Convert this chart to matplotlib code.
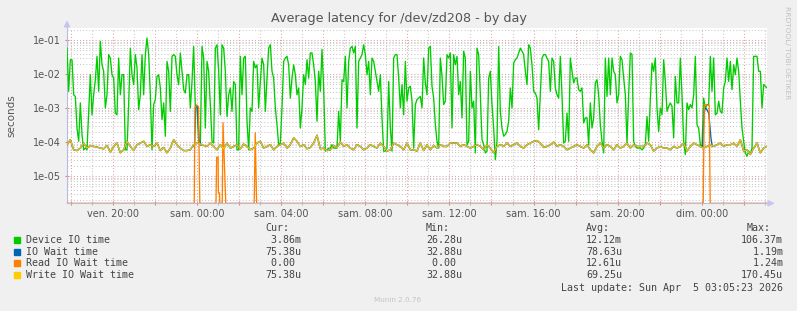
import numpy as np
import matplotlib
matplotlib.use("Agg")
import matplotlib.pyplot as plt
from matplotlib.ticker import MultipleLocator, LogLocator, FuncFormatter, NullFormatter
from matplotlib.patches import Rectangle, Polygon

# ---------------- data ----------------
# time in minutes relative to "sam. 00:00"
T_START, T_END = -371, 1626

# Device IO time, log10(seconds), evenly spaced samples over the window
device_log10 = [
    -1.24, -2.51, -1.58, -1.58, -2.61, -2.66, -3.59, -3.98, -2.85, -3.78,
    -4.23, -4.18, -4.23, -3.10, -2.02, -3.20, -2.61, -2.17, -1.48, -2.51,
    -1.04, -1.73, -1.92, -3.00, -2.61, -1.43, -1.53, -2.02, -2.12, -3.15,
    -3.20, -1.53, -2.61, -2.02, -2.02, -4.23, -4.23, -2.90, -1.24, -2.02,
    -2.31, -1.43, -1.82, -3.05, -2.61, -1.43, -2.61, -1.43, -0.94, -1.43,
    -2.61, -4.23, -2.90, -2.75, -2.07, -2.02, -2.41, -3.34, -2.85, -3.83,
    -1.63, -1.92, -3.10, -1.48, -1.43, -1.48, -2.02, -2.31, -1.38, -1.92, -2.46,
    -2.56, -2.02, -2.02, -3.00, -2.22, -1.19, -3.00, -2.95, -4.03, -4.03,
    -1.19, -1.53, -3.59, -1.63, -1.92, -2.90, -3.98, -4.03, -1.24, -1.14,
    -1.92, -3.20, -1.14, -1.24, -1.92, -3.25, -2.61, -2.41, -3.10, -2.22,
    -2.31, -4.23, -4.23, -1.48, -2.61, -1.53, -1.48, -3.39, -4.23, -3.00,
    -3.10, -1.63, -1.82, -1.73, -3.00, -2.22, -1.53, -1.73, -3.10, -2.12,
    -1.24, -1.14, -1.92, -2.12, -3.00, -3.49, -4.08, -4.03, -3.00, -1.63,
    -1.53, -1.48, -1.73, -2.71, -2.12, -1.73, -2.02, -2.61, -2.41, -3.59,
    -3.00, -2.02, -2.31, -1.58, -2.12, -1.38, -1.38, -1.73, -2.22, -3.39,
    -1.92, -2.51, -1.28, -2.41, -4.27, -4.23, -4.18, -4.18, -4.08, -4.18,
    -4.18, -4.18, -3.10, -3.98, -2.17, -2.22, -1.48, -3.00, -1.63, -1.24,
    -1.19, -1.38, -1.19, -3.59, -1.63, -1.53, -1.43, -1.14, -1.43, -2.02,
    -1.63, -2.61, -1.53, -1.63, -1.92, -2.22, -2.51, -2.02, -3.29, -4.27,
    -4.27, -4.18, -2.22, -3.59, -4.27, -1.53, -1.43, -1.43, -2.12, -3.00,
    -2.31, -3.20, -1.63, -2.80, -2.41, -2.36, -2.80, -4.18, -2.90, -2.75, -2.71,
    -2.66, -3.00, -1.53, -2.26, -2.61, -1.24, -1.19, -2.36, -2.71, -3.49,
    -3.98, -4.18, -1.53, -2.07, -2.90, -2.80, -1.43, -1.53, -1.38, -3.59,
    -1.43, -1.73, -1.48, -2.61, -2.22, -3.29, -1.33, -1.53, -4.08, -3.98,
    -1.92, -3.00, -2.80, -4.32, -1.24, -1.43, -2.61, -3.93, -4.08, -4.32,
    -4.27, -2.12, -1.92, -2.90, -3.59, -4.52, -3.98, -1.19, -3.10, -3.59,
    -3.83, -3.78, -3.69, -3.39, -2.41, -3.00, -1.68, -1.58, -1.53, -1.38,
    -1.24, -1.33, -1.43, -1.92, -2.31, -1.14, -1.24, -1.73, -2.51, -2.56, -2.71,
    -3.64, -2.61, -1.53, -1.43, -1.43, -1.53, -1.63, -2.51, -1.53, -1.63,
    -2.41, -2.61, -2.71, -1.48, -2.61, -4.03, -3.98, -3.15, -3.98, -1.53,
    -1.92, -2.26, -2.12, -2.12, -2.46, -2.51, -2.41, -3.44, -3.29, -3.29,
    -4.08, -2.85, -3.59, -3.29, -2.26, -2.17, -2.61, -3.49, -3.98, -4.32,
    -1.53, -2.66, -1.53, -2.61, -1.53, -1.92, -2.02, -2.85, -2.61, -1.48,
    -1.58, -2.12, -2.61, -4.03, -2.61, -1.38, -1.43, -3.98, -4.13, -4.18,
    -4.18, -4.18, -4.23, -4.18, -4.08, -3.25, -3.98, -2.75, -1.68, -1.92, -1.53,
    -3.00, -3.69, -3.00, -3.20, -1.58, -2.22, -3.10, -2.95, -2.85, -2.95,
    -3.88, -2.07, -2.85, -2.85, -1.53, -2.61, -3.98, -4.37, -2.85, -3.05,
    -2.90, -3.00, -2.61, -1.48, -3.49, -3.59, -4.08, -4.13, -2.71, -3.00,
    -2.90, -2.90, -1.48, -2.51, -1.53, -3.20, -3.15, -2.80, -3.10, -3.15,
    -2.41, -2.22, -1.53, -2.22, -1.63, -2.46, -1.73, -2.02, -1.53, -1.92,
    -2.80, -3.59, -3.98, -4.32, -4.42, -4.27, -4.37, -4.18, -1.48, -1.48,
    -1.48, -1.92, -1.92, -3.00, -2.31, -2.36, -2.41,
]

# Write IO Wait time, microseconds, evenly spaced samples over the window
write_us = [
    83, 117, 59, 56, 66, 93, 66, 79, 74, 71, 66, 63, 79, 51, 74, 93, 48, 59,
    105, 74, 56, 83, 93, 105, 74, 83, 74, 93, 56, 69, 48, 66, 117, 83, 66, 56,
    56, 59, 83, 93, 87, 79, 74, 93, 74, 59, 83, 63, 93, 66, 74, 83, 63, 87,
    74, 59, 66, 93, 105, 66, 74, 83, 59, 74, 83, 93, 66, 83, 132, 105, 74,
    83, 63, 69, 93, 158, 63, 66, 56, 59, 79, 69, 100, 74, 83, 66, 59, 83, 74,
    59, 66, 83, 74, 66, 93, 74, 54, 59, 93, 83, 74, 59, 93, 59, 59, 54,
    93, 56, 83, 59, 79, 66, 83, 74, 74, 93, 93, 93, 74, 83, 74, 66, 74, 83,
    74, 59, 83, 66, 48, 74, 83, 74, 93, 74, 83, 93, 74, 66, 83, 93, 105, 110,
    93, 69, 74, 83, 100, 74, 83, 74, 59, 66, 74, 83, 74, 66, 83, 59, 48, 74,
    93, 66, 83, 74, 59, 83, 66, 74, 93, 66, 83, 74, 74, 74, 93, 83, 54,
    66, 74, 66, 66, 59, 74, 66, 74, 93, 54, 74, 93, 83, 74, 66, 74, 83, 74,
    83, 93, 74, 83, 83, 93, 74, 117, 54, 59, 43, 66, 93, 48, 66, 75,
]

# Read IO Wait time (mostly zero), microseconds
read_t = [-371, -8, -6, -1, 4, 8, 54, 56, 60, 61, 64, 65, 72, 74, 82,
          163, 166, 170, 1444, 1447, 1461, 1464, 1626]
read_us = [0, 0, 1000, 1240, 1100, 0, 0, 36, 36, 3.2, 3.2, 0, 0, 370, 0,
           0, 190, 0, 0, 1240, 1200, 0, 0]

# IO Wait time: equal to write wait except where reads occur (spikes), microseconds
iowait_t1 = [-12, -7, -4, 1, 6, 11]
iowait_us1 = [74, 80, 1190, 1100, 120, 80]
iowait_t2 = [1442, 1447, 1452, 1460, 1466, 1470]
iowait_us2 = [70, 850, 1000, 700, 132, 74]

tick_minutes = [-240, 0, 240, 480, 720, 960, 1200, 1440]
tick_labels = ["ven. 20:00", "sam. 00:00", "sam. 04:00", "sam. 08:00",
               "sam. 12:00", "sam. 16:00", "sam. 20:00", "dim. 00:00"]

series_names = ["Device IO time", "IO Wait time", "Read IO Wait time", "Write IO Wait time"]
series_colors = ["#00CC00", "#0066B3", "#FF8000", "#FFCC00"]
cur_vals = ["3.86m", "75.38u", "0.00", "75.38u"]
min_vals = ["26.28u", "32.88u", "0.00", "32.88u"]
avg_vals = ["12.12m", "78.63u", "12.61u", "69.25u"]
max_vals = ["106.37m", "1.19m", "1.24m", "170.45u"]
last_update = "Last update: Sun Apr  5 03:05:23 2026"

YMIN, YMAX = 1.574e-6, 0.2254

# ---------------- figure ----------------
W, H = 797, 311
fig = plt.figure(figsize=(W / 100, H / 100), dpi=100, facecolor="#F0F0F0")

def fx(px):
    return px / W

def fy(py):
    return 1 - py / H

ax_l, ax_r, ax_t, ax_b = 67, 767, 28, 203.3
ax = fig.add_axes([fx(ax_l), fy(ax_b), (ax_r - ax_l) / W, (ax_b - ax_t) / H])
ax.set_facecolor("white")
ax.set_yscale("log")
ax.set_xlim(T_START, T_END)
ax.set_ylim(YMIN, YMAX)

# grid
ax.set_axisbelow(True)
ax.xaxis.set_major_locator(MultipleLocator(120))
ax.xaxis.set_minor_locator(MultipleLocator(60))
ax.yaxis.set_major_locator(LogLocator(base=10, numticks=20))
ax.yaxis.set_minor_locator(LogLocator(base=10, subs=np.arange(2, 10), numticks=20))
ax.grid(which="major", color="#e2a0a0", linestyle=(0, (1, 2)), linewidth=0.75)
ax.grid(which="minor", color="#c8c8c8", linestyle=(0, (1, 2)), linewidth=0.75)

label_map = dict(zip(tick_minutes, tick_labels))
ax.xaxis.set_major_formatter(FuncFormatter(lambda v, p: label_map.get(int(round(v)), "")))
ax.xaxis.set_minor_formatter(NullFormatter())
ax.yaxis.set_major_formatter(FuncFormatter(lambda v, p: f"{v:.0e}"))
ax.yaxis.set_minor_formatter(NullFormatter())

ax.tick_params(which="major", direction="inout", length=3, width=0.8, color="#e08080",
               labelsize=7, labelcolor="#555555")
ax.tick_params(which="minor", direction="inout", length=3, width=0.8, color="#bbbbbb")
ax.tick_params(axis="x", which="major", pad=2.5)
ax.tick_params(axis="y", which="major", pad=3)
ax.tick_params(axis="y", which="minor", length=0)

for s in ["top", "right"]:
    ax.spines[s].set_visible(False)
ax.spines["left"].set_color("#b8bce0")
ax.spines["bottom"].set_color("#b8bce0")
ax.spines["left"].set_linewidth(0.8)
ax.spines["bottom"].set_linewidth(0.8)

# series
t_dev = np.linspace(T_START, T_END, len(device_log10))
t_wr = np.linspace(T_START, T_END, len(write_us))
ax.plot(t_dev, 10 ** np.array(device_log10), color=series_colors[0], lw=0.95, zorder=3)
# IO wait follows the write wait curve (no reads), plus its read spikes
ax.plot(t_wr, np.array(write_us) * 1e-6, color=series_colors[1], lw=1.1, zorder=3)
ax.plot(iowait_t1, np.array(iowait_us1) * 1e-6, color=series_colors[1], lw=0.95, zorder=3)
ax.plot(iowait_t2, np.array(iowait_us2) * 1e-6, color=series_colors[1], lw=0.95, zorder=3)
ax.plot(read_t, np.maximum(np.array(read_us) * 1e-6, YMIN), color=series_colors[2], lw=0.95, zorder=3)
ax.plot(t_wr, np.array(write_us) * 1e-6, color="#F2C300", lw=0.95, zorder=4)

# arrows
arrow_c = "#c4c6ee"
fig.patches.append(Polygon([[fx(64.5), fy(27)], [fx(69.5), fy(27)], [fx(67), fy(21.5)]],
                           closed=True, transform=fig.transFigure, color=arrow_c))
fig.patches.append(Polygon([[fx(768), fy(200.8)], [fx(768), fy(205.8)], [fx(773.5), fy(203.3)]],
                           closed=True, transform=fig.transFigure, color=arrow_c))

# title, labels
fig.text(0.5, fy(18.5), "Average latency for /dev/zd208 - by day", ha="center", va="center",
         fontsize=9.2, color="#555555")
fig.text(fx(11), fy(115.5), "seconds", rotation=90, ha="center", va="center",
         fontsize=7.5, color="#555555")
fig.text(fx(787), fy(53), "RRDTOOL/ TOBI OETIKER", rotation=270, ha="center", va="center",
         fontsize=5.4, color="#c0c0c0")
fig.text(fx(398), fy(300), "Munin 2.0.76", ha="center", va="center", fontsize=5.2, color="#c4c4c4")

# legend
mono = dict(family="DejaVu Sans Mono", fontsize=7.2, color="#444444", va="center")

def fmt(s):
    if s[-1].isalpha():
        return f"{s[:-1]:>5}{s[-1]}"
    return f"{s:>5} "

fig.text(fx(265), fy(227.7), "Cur:", **mono)
fig.text(fx(426), fy(227.7), "Min:", **mono)
fig.text(fx(586), fy(227.7), "Avg:", **mono)
fig.text(fx(747), fy(227.7), "Max:", **mono)
row_y = [240, 251.7, 263.4, 275.4]
for i in range(4):
    y = row_y[i]
    fig.patches.append(Rectangle((fx(14), fy(y + 3)), 6 / W, 6 / H, transform=fig.transFigure,
                                 color=series_colors[i]))
    fig.text(fx(26), fy(y), series_names[i], **mono)
    fig.text(fx(265), fy(y), fmt(cur_vals[i]), **mono)
    fig.text(fx(426), fy(y), fmt(min_vals[i]), **mono)
    fig.text(fx(586), fy(y), fmt(avg_vals[i]), **mono)
    fig.text(fx(783), fy(y), fmt(max_vals[i]).rstrip(), ha="right", **mono)
fig.text(fx(783), fy(287.7), last_update, ha="right", **mono)

fig.savefig("out.png", dpi=100, facecolor=fig.get_facecolor())
